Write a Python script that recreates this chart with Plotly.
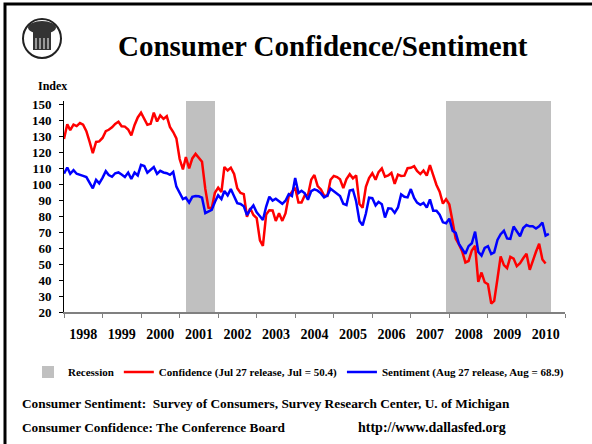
import pandas as pd
import plotly.graph_objects as go

# ── data (monthly, Jan 1998 onward) ─────────────────────────────────────
start_month = "1998-01-01"

confidence = [
    128.3, 137.4, 133.8, 137.2, 136.3, 138.2, 137.2, 133.1, 126.4, 119.3, 126.4, 126.7,  # 1998
    128.9, 133.1, 134.0, 135.5, 137.7, 139.0, 136.2, 136.0, 134.2, 130.5, 137.0, 141.7,  # 1999
    144.7, 140.8, 137.1, 137.7, 144.7, 139.2, 143.0, 140.8, 142.5, 135.8, 132.6, 128.6,  # 2000
    115.7, 109.2, 116.9, 109.9, 116.1, 118.9, 116.3, 114.0, 97.0, 85.3, 84.9, 94.6,      # 2001
    97.8, 95.0, 110.7, 108.5, 110.3, 106.3, 97.4, 94.5, 93.7, 79.6, 84.9, 80.7,          # 2002
    78.8, 64.8, 61.4, 81.0, 83.6, 83.5, 77.0, 81.7, 77.0, 81.7, 92.5, 94.8,              # 2003
    97.7, 88.5, 88.5, 93.0, 93.1, 102.8, 105.7, 98.7, 96.7, 92.9, 92.6, 102.7,           # 2004
    105.1, 104.4, 103.0, 97.5, 103.1, 106.2, 103.6, 105.5, 87.5, 85.2, 98.3, 103.8,      # 2005
    106.8, 102.7, 107.5, 109.8, 104.7, 105.4, 107.0, 100.2, 105.9, 105.1, 105.3, 110.0,  # 2006
    110.2, 111.2, 108.2, 106.3, 108.5, 105.3, 111.9, 105.6, 99.5, 95.2, 87.8, 90.6,      # 2007
    87.3, 76.4, 65.9, 62.3, 58.1, 51.0, 51.9, 58.5, 61.4, 38.8, 44.7, 38.6,              # 2008
    37.4, 25.3, 26.9, 40.8, 54.8, 49.3, 47.4, 54.5, 53.4, 48.7, 50.6, 53.6,              # 2009
    56.5, 46.4, 52.3, 57.7, 62.7, 52.9, 50.4,                                            # 2010
]

sentiment = [
    106.6, 110.4, 106.5, 108.7, 106.5, 105.6, 105.2, 104.4, 100.9, 97.4, 102.7, 100.5,   # 1998
    103.9, 108.1, 105.7, 104.6, 106.8, 107.3, 106.0, 104.5, 107.2, 103.2, 107.2, 105.4,  # 1999
    112.0, 111.3, 107.1, 109.2, 110.7, 106.4, 108.3, 107.3, 106.8, 105.8, 107.6, 98.4,   # 2000
    94.7, 90.6, 91.5, 88.4, 92.0, 92.6, 92.4, 91.5, 81.8, 82.7, 83.9, 88.8,              # 2001
    93.0, 90.7, 95.7, 93.0, 96.9, 92.4, 88.1, 87.6, 86.1, 80.6, 84.2, 86.7,              # 2002
    82.4, 79.9, 77.6, 86.0, 92.1, 89.7, 90.9, 89.3, 87.7, 89.6, 93.7, 92.6,              # 2003
    103.8, 94.4, 95.8, 94.2, 90.2, 95.6, 96.7, 95.9, 94.2, 91.7, 92.8, 97.1,             # 2004
    95.5, 94.1, 92.6, 87.7, 86.9, 96.0, 96.5, 89.1, 76.9, 74.2, 81.6, 91.5,              # 2005
    91.2, 86.7, 88.9, 87.4, 79.1, 84.9, 84.7, 82.0, 85.4, 93.6, 92.1, 91.7,              # 2006
    96.9, 91.3, 88.4, 87.1, 88.3, 85.3, 90.4, 83.4, 83.4, 80.9, 76.1, 75.5,              # 2007
    78.4, 70.8, 69.5, 62.6, 59.8, 56.4, 61.2, 63.0, 70.3, 57.6, 55.3, 60.1,              # 2008
    61.2, 56.3, 57.3, 65.1, 68.7, 70.8, 66.0, 65.7, 73.5, 70.6, 67.4, 72.5,              # 2009
    74.4, 73.6, 73.6, 72.2, 73.6, 76.0, 67.8, 68.9,                                      # 2010
]

recession_start = ["2001-03-01", "2007-12-01"]
recession_end = ["2001-12-01", "2010-08-20"]
recession_top = 152

conf_dates = pd.date_range(start_month, periods=len(confidence), freq="MS")
sent_dates = pd.date_range(start_month, periods=len(sentiment), freq="MS")

# ── geometry helpers (pixel -> paper) ───────────────────────────────────
W, H = 592, 444
L, R, T, B = 64, 27, 101, 132


def px(x):
    return (x - L) / (W - L - R)


def py(y):
    return (H - B - y) / (H - T - B)


SERIF = "Liberation Serif, Times New Roman, serif"

fig = go.Figure()

# recession shading as bars spanning each period
rs = pd.to_datetime(recession_start)
re_ = pd.to_datetime(recession_end)
fig.add_trace(
    go.Bar(
        x=rs + (re_ - rs) / 2,
        y=[recession_top - 20] * len(rs),
        base=20,
        width=[(e - s).total_seconds() * 1000 for s, e in zip(rs, re_)],
        marker=dict(color="#C0C0C0", line=dict(width=0)),
        name="Recession",
        hoverinfo="skip",
    )
)

fig.add_trace(
    go.Scatter(
        x=conf_dates,
        y=confidence,
        mode="lines",
        name="Confidence (Jul 27 release, Jul = 50.4)",
        line=dict(color="#FF0000", width=2.5),
    )
)

fig.add_trace(
    go.Scatter(
        x=sent_dates,
        y=sentiment,
        mode="lines",
        name="Sentiment (Aug 27 release, Aug = 68.9)",
        line=dict(color="#0000FF", width=2.5),
    )
)

# ── logo (simplified seal) and frame ────────────────────────────────────
shapes = [
    dict(type="rect", xref="paper", yref="paper",
         x0=px(5), x1=px(600), y0=py(4), y1=py(452),
         line=dict(color="black", width=3)),
    dict(type="circle", xref="paper", yref="paper",
         x0=px(23), x1=px(61), y0=py(19), y1=py(58),
         line=dict(color="#222", width=2), fillcolor="white"),
    dict(type="circle", xref="paper", yref="paper",
         x0=px(28), x1=px(56), y0=py(21), y1=py(34),
         line=dict(width=0), fillcolor="#333"),
    dict(type="rect", xref="paper", yref="paper",
         x0=px(33), x1=px(51), y0=py(32), y1=py(50),
         line=dict(width=0), fillcolor="#333"),
]
for sx in [36, 40, 44, 48]:
    shapes.append(dict(type="line", xref="paper", yref="paper",
                       x0=px(sx), x1=px(sx), y0=py(38), y1=py(49),
                       line=dict(color="white", width=1)))

annotations = [
    dict(text="<b>Consumer Confidence/Sentiment</b>", x=px(323), y=py(46),
         xanchor="center", yanchor="middle", font=dict(size=29)),
    dict(text="<b>Index</b>", x=px(36), y=py(86),
         xanchor="left", yanchor="middle", font=dict(size=12)),
    dict(text="<b>Consumer Sentiment:\u00a0 Survey of Consumers, Survey Research Center, U. of Michigan</b>",
         x=px(20), y=py(403), xanchor="left", yanchor="middle", font=dict(size=13.3)),
    dict(text="<b>Consumer Confidence: The Conference Board</b>",
         x=px(20), y=py(427), xanchor="left", yanchor="middle", font=dict(size=13.3)),
    dict(text="<b>http://www.dallasfed.org</b>",
         x=px(356), y=py(427), xanchor="left", yanchor="middle", font=dict(size=14)),
]
for a in annotations:
    a.update(xref="paper", yref="paper", showarrow=False)
    a["font"].update(family=SERIF, color="black")

fig.update_layout(
    width=W,
    height=H,
    margin=dict(l=L, r=R, t=T, b=B),
    paper_bgcolor="white",
    plot_bgcolor="white",
    bargap=0,
    shapes=shapes,
    annotations=annotations,
    showlegend=True,
    legend=dict(
        orientation="h",
        x=px(28), y=py(372),
        xanchor="left", yanchor="middle",
        font=dict(family=SERIF, size=11, color="black", weight="bold"),
        bgcolor="rgba(0,0,0,0)",
        itemwidth=30,
    ),
    xaxis=dict(
        type="date",
        range=["1998-01-01", "2011-01-01"],
        tick0="1998-01-01",
        dtick="M12",
        tickformat="%Y",
        ticklabelmode="period",
        ticks="outside",
        ticklen=4,
        tickcolor="#808080",
        ticklabelstandoff=4,
        showline=True,
        linecolor="#808080",
        linewidth=1.5,
        showgrid=False,
        zeroline=False,
        tickfont=dict(family=SERIF, size=14, color="black", weight="bold"),
    ),
    yaxis=dict(
        range=[20, recession_top],
        tick0=20,
        dtick=10,
        ticks="outside",
        ticklen=4,
        tickcolor="black",
        ticklabelstandoff=5,
        showline=True,
        linecolor="black",
        linewidth=1,
        showgrid=False,
        zeroline=False,
        tickfont=dict(family=SERIF, size=13, color="black", weight="bold"),
    ),
)

# page has a default body margin; remove it so the figure sits at the origin
fig.write_html(
    "out.html",
    config={"displayModeBar": False},
    post_script="document.body.style.margin = '0px';",
)
